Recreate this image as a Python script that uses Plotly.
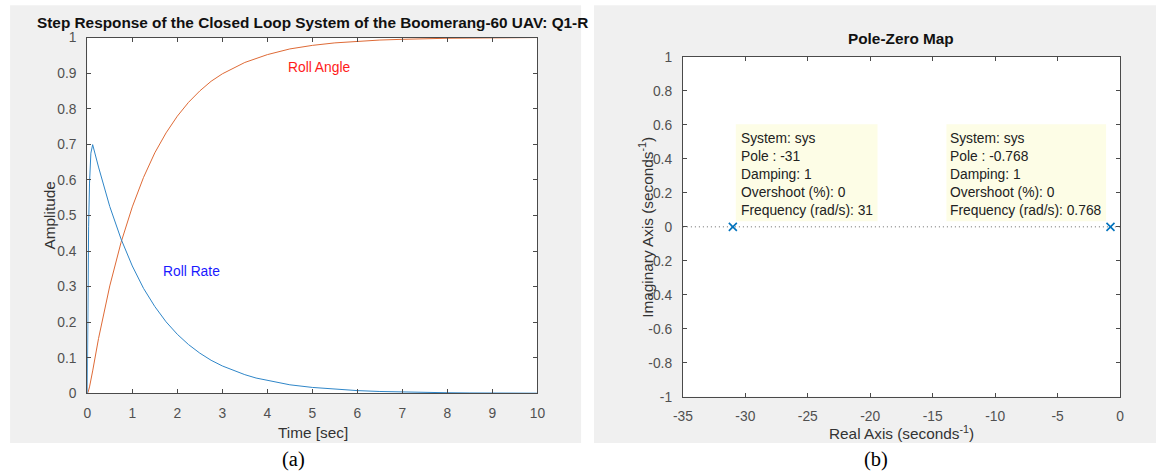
import plotly.graph_objects as go

# ---------------- data ----------------
t_angle = [0, 0.02, 0.05, 0.08, 0.12, 0.25, 0.5, 0.75, 1.0, 1.25, 1.5, 1.75, 2.0, 2.25, 2.5, 2.75,
           3.0, 3.5, 4.0, 4.5, 5.0, 5.5, 6.0, 6.5, 7.0, 7.5, 8.0, 9.0, 10.0]
roll_angle = [0, 0.004, 0.018, 0.036, 0.063, 0.154, 0.302, 0.424, 0.524, 0.607, 0.676, 0.732, 0.779,
              0.818, 0.850, 0.877, 0.898, 0.930, 0.952, 0.968, 0.978, 0.985, 0.990, 0.993, 0.995,
              0.997, 0.998, 0.999, 1.0]

t_rate = [0, 0.01, 0.02, 0.03, 0.05, 0.08, 0.12, 0.25, 0.5, 0.75, 1.0, 1.25, 1.5, 1.75, 2.0, 2.25,
          2.5, 2.75, 3.0, 3.25, 3.5, 3.75, 4.0, 4.5, 5.0, 5.5, 6.0, 6.5, 7.0, 7.5, 8.0, 8.5, 9.0,
          9.5, 10.0]
roll_rate = [0, 0.203, 0.352, 0.468, 0.591, 0.675, 0.699, 0.636, 0.525, 0.434, 0.358, 0.295, 0.244,
             0.201, 0.166, 0.137, 0.113, 0.093, 0.077, 0.064, 0.0525, 0.043, 0.036, 0.024, 0.0166,
             0.0113, 0.0077, 0.0052, 0.0036, 0.0024, 0.0017, 0.0011, 0.0008, 0.0005, 0.0004]

time_ticks = [0, 1, 2, 3, 4, 5, 6, 7, 8, 9, 10]
time_ticktext = ["0", "1", "2", "3", "4", "5", "6", "7", "8", "9", "10"]
amp_ticks = [0, 0.1, 0.2, 0.3, 0.4, 0.5, 0.6, 0.7, 0.8, 0.9, 1]
amp_ticktext = ["0", "0.1", "0.2", "0.3", "0.4", "0.5", "0.6", "0.7", "0.8", "0.9", "1"]

pole_real = [-31, -0.768]
pole_imag = [0, 0]
pole_damping = [1, 1]
pole_overshoot = [0, 0]
pole_freq = [31, 0.768]

real_ticks = [-35, -30, -25, -20, -15, -10, -5, 0]
real_ticktext = ["-35", "-30", "-25", "-20", "-15", "-10", "-5", "0"]
imag_ticks = [-1, -0.8, -0.6, -0.4, -0.2, 0, 0.2, 0.4, 0.6, 0.8, 1]
imag_ticktext = ["-1", "-0.8", "-0.6", "-0.4", "-0.2", "0", "0.2", "0.4", "0.6", "0.8", "1"]

# ---------------- layout helpers ----------------
# Observed: the photographed page includes the body's 8px margin and is fitted
# into the window, so positions are pre-compensated for that.
OFF = 8
SX, SY = 1162 / 1178, 472 / 488
W, H = 1170, 480
def px(x):
    return (x / SX - OFF) / W
def py(y):
    return 1 - (y / SY - OFF) / H

FS = 1 / ((SX + SY) / 2)   # font compensation
FONT = "Liberation Sans, Arial, sans-serif"
AXC = "#4a4a4a"
TICKC = "#505050"
LABC = "#333333"

# axes boxes in window pixels (left, top, right, bottom)
BOX_A = (85.3, 37.3, 536.3, 393.3)
BOX_B = (682, 56.7, 1120, 396.7)

fig = go.Figure()

fig.add_trace(go.Scatter(x=t_angle, y=roll_angle, mode="lines", name="Roll Angle",
                         line=dict(color="#DE6A36", width=1), xaxis="x", yaxis="y",
                         showlegend=False, hoverinfo="skip"))
fig.add_trace(go.Scatter(x=t_rate, y=roll_rate, mode="lines", name="Roll Rate",
                         line=dict(color="#2F86C8", width=1), xaxis="x", yaxis="y",
                         showlegend=False, hoverinfo="skip"))
fig.add_trace(go.Scatter(x=pole_real, y=pole_imag, mode="markers", name="Poles",
                         marker=dict(symbol="x-thin", size=8, color="#0072BD",
                                     line=dict(color="#0072BD", width=1.6)),
                         xaxis="x2", yaxis="y2", showlegend=False, hoverinfo="skip",
                         cliponaxis=False))

axis_common = dict(showline=True, linecolor=AXC, linewidth=1, mirror="ticks",
                   ticks="inside", ticklen=4, tickwidth=1, tickcolor=AXC,
                   showgrid=False, zeroline=False, fixedrange=True,
                   tickfont=dict(family=FONT, size=13.5 * FS, color=TICKC))

fig.update_layout(
    width=W, height=H, autosize=False,
    margin=dict(l=0, r=0, t=0, b=0),
    paper_bgcolor="white", plot_bgcolor="white",
    xaxis=dict(domain=[px(BOX_A[0]), px(BOX_A[2])], range=[0, 10], anchor="y",
               tickmode="array", tickvals=time_ticks, ticktext=time_ticktext,
               ticklabelstandoff=7, **axis_common),
    yaxis=dict(domain=[py(BOX_A[3]), py(BOX_A[1])], range=[0, 1], anchor="x",
               tickmode="array", tickvals=amp_ticks, ticktext=amp_ticktext,
               ticklabelstandoff=7, **axis_common),
    xaxis2=dict(domain=[px(BOX_B[0]), px(BOX_B[2])], range=[-35, 0], anchor="y2",
                tickmode="array", tickvals=real_ticks, ticktext=real_ticktext,
                ticklabelstandoff=7, **axis_common),
    yaxis2=dict(domain=[py(BOX_B[3]), py(BOX_B[1])], range=[-1, 1], anchor="x2",
                tickmode="array", tickvals=imag_ticks, ticktext=imag_ticktext,
                ticklabelstandoff=7, **axis_common),
)

def rect(x0, y0, x1, y1, color, layer="below"):
    return dict(type="rect", xref="paper", yref="paper", x0=px(x0), x1=px(x1),
                y0=py(y1), y1=py(y0), fillcolor=color, line=dict(width=0), layer=layer)

shapes = [
    rect(8, 5, 580, 443, "#f0f0f0"),
    rect(593, 5, 1156, 443, "#f0f0f0"),
    rect(*BOX_A, "white"),
    rect(*BOX_B, "white"),
    dict(type="line", xref="x2 domain", yref="y2", x0=0, x1=1, y0=0, y1=0,
         line=dict(color="#6a6a6a", width=1, dash="1px,3px"), layer="below"),
    rect(735, 124, 877, 221, "#fdfde6", layer="above"),
    rect(946, 124, 1106, 221, "#fdfde6", layer="above"),
]
fig.update_layout(shapes=shapes)

def ann(text, x, y, size, color=LABC, xanchor="center", yanchor="middle", angle=0,
        family=FONT, xref="paper", yref="paper", align="center"):
    return dict(text=text, x=x, y=y, xref=xref, yref=yref, showarrow=False,
                xanchor=xanchor, yanchor=yanchor, textangle=angle, align=align,
                font=dict(family=family, size=size * FS, color=color))

def fmt(v):
    return f"{v:g}"

SERIF = "Liberation Serif, Times New Roman, serif"
annotations = [
    ann("<b>Step Response of the Closed Loop System of the Boomerang-60 UAV: Q1-R</b>",
        px(32.6), py(22), 15, color="#111111", xanchor="left"),
    ann("Amplitude", px(47), py(215.3), 15, angle=-90),
    ann("Time [sec]", px(311), py(432), 15),
    ann("Roll Angle", 4.41, 0.917, 13.5, color="#ff1a1a", xanchor="left", xref="x", yref="y"),
    ann("Roll Rate", 1.63, 0.3435, 13.5, color="#1a1aff", xanchor="left", xref="x", yref="y"),
    ann("<b>Pole-Zero Map</b>", px(901), py(38), 15, color="#111111"),
    ann("Imaginary Axis (seconds<sup>-1</sup>)", px(645), py(226.7), 15, angle=-90),
    ann("Real Axis (seconds<sup>-1</sup>)", px(901), py(432), 15),
    ann("(a)", px(292), py(459), 20, color="black", family=SERIF),
    ann("(b)", px(875), py(459), 20, color="black", family=SERIF),
]

tip_x = [738, 948]
for i in range(len(pole_real)):
    txt = (f"System: sys<br>Pole : {fmt(pole_real[i])}<br>Damping: {fmt(pole_damping[i])}"
           f"<br>Overshoot (%): {fmt(pole_overshoot[i])}<br>Frequency (rad/s): {fmt(pole_freq[i])}")
    annotations.append(ann(txt, px(tip_x[i]), py(174.3), 13.5, color="#222222",
                           xanchor="left", align="left"))

fig.update_layout(annotations=annotations)

fig.write_html("out.html")
